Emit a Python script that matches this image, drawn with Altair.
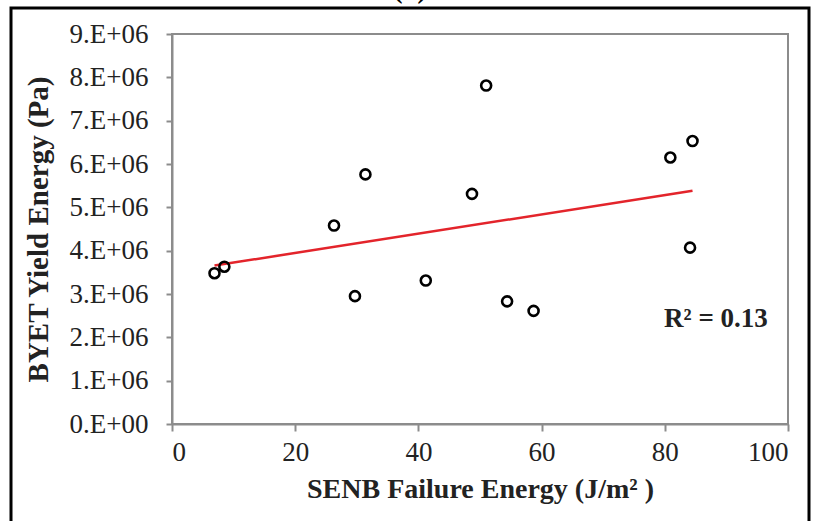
import altair as alt
import pandas as pd

# Data
failure_energy = [6.9, 8.5, 26.3, 31.4, 29.7, 41.2, 48.7, 51.0, 54.4, 58.7, 80.9, 84.5, 84.1]
yield_energy = [3.48e6, 3.63e6, 4.58e6, 5.76e6, 2.95e6, 3.31e6, 5.31e6, 7.81e6,
                2.83e6, 2.61e6, 6.15e6, 6.53e6, 4.07e6]
x_ticks = [0, 20, 40, 60, 80, 100]
y_ticks = [0, 1e6, 2e6, 3e6, 4e6, 5e6, 6e6, 7e6, 8e6, 9e6]
r2_label = ["R² = 0.13"]
r2_pos_x = [88.3]
r2_pos_y = [2.24e6]

df = pd.DataFrame({"x": failure_energy, "y": yield_energy})
ann = pd.DataFrame({"x": r2_pos_x, "y": r2_pos_y, "t": r2_label})

FONT = "Liberation Serif"
GRAY = "#8c8c8c"

xscale = alt.Scale(domain=[0, 100], nice=False, zero=False)
yscale = alt.Scale(domain=[0, 9e6], nice=False)

xaxis = alt.Axis(values=x_ticks, grid=False, title="SENB Failure Energy (J/m² )",
                 labelFont=FONT, labelFontSize=27, labelColor="#222",
                 titleFont=FONT, titleFontSize=28, titleFontWeight="bold", titleColor="#222",
                 domainColor=GRAY, domainWidth=2, tickColor=GRAY, tickWidth=2, tickSize=7,
                 labelPadding=8, titleY=73, titleBaseline="alphabetic")
yaxis = alt.Axis(values=y_ticks, grid=False, title="BYET Yield Energy (Pa)",
                 labelExpr="datum.value == 0 ? '0.E+00' : format(datum.value/1000000, 'd') + '.E+06'",
                 labelFont=FONT, labelFontSize=27, labelColor="#222",
                 titleFont=FONT, titleFontSize=29, titleFontWeight="bold", titleColor="#222",
                 domainColor=GRAY, domainWidth=2, tickColor=GRAY, tickWidth=2, tickSize=6,
                 labelPadding=18, titleX=-125, titleBaseline="alphabetic")

points = alt.Chart(df).mark_point(shape="circle", filled=False, size=100,
                                  stroke="black", strokeWidth=2.6, opacity=1).encode(
    x=alt.X("x:Q", scale=xscale, axis=xaxis),
    y=alt.Y("y:Q", scale=yscale, axis=yaxis),
)

trend = alt.Chart(df).transform_regression("x", "y").mark_line(
    color="#e3242b", strokeWidth=2.5).encode(
    x=alt.X("x:Q", scale=xscale),
    y=alt.Y("y:Q", scale=yscale),
)

label = alt.Chart(ann).mark_text(font=FONT, fontSize=27, fontWeight="bold",
                                 color="#222", align="center", baseline="alphabetic").encode(
    x=alt.X("x:Q", scale=xscale),
    y=alt.Y("y:Q", scale=yscale),
    text="t:N",
)

# outer figure frame (decoration)
frame = alt.Chart(ann).mark_rect(fill=None, stroke="black", strokeWidth=3, clip=False).encode(
    x=alt.value(-161), x2=alt.value(637), y=alt.value(-26), y2=alt.value(520),
)

panel_tag = alt.Chart(ann).mark_text(text="(b)", font=FONT, fontSize=27, fontWeight="bold",
                                     baseline="bottom", align="center", clip=False).encode(
    x=alt.value(238), y=alt.value(-30),
)

chart = alt.layer(frame, trend, points, label, panel_tag).properties(
    width=616, height=390,
    autosize=alt.AutoSizeParams(type="none"),
    padding={"left": 172, "top": 34, "right": 25, "bottom": 97},
    background="white",
).configure_view(stroke=GRAY, strokeWidth=2)

chart.save("out.html", embed_options={"renderer": "svg", "actions": False})
